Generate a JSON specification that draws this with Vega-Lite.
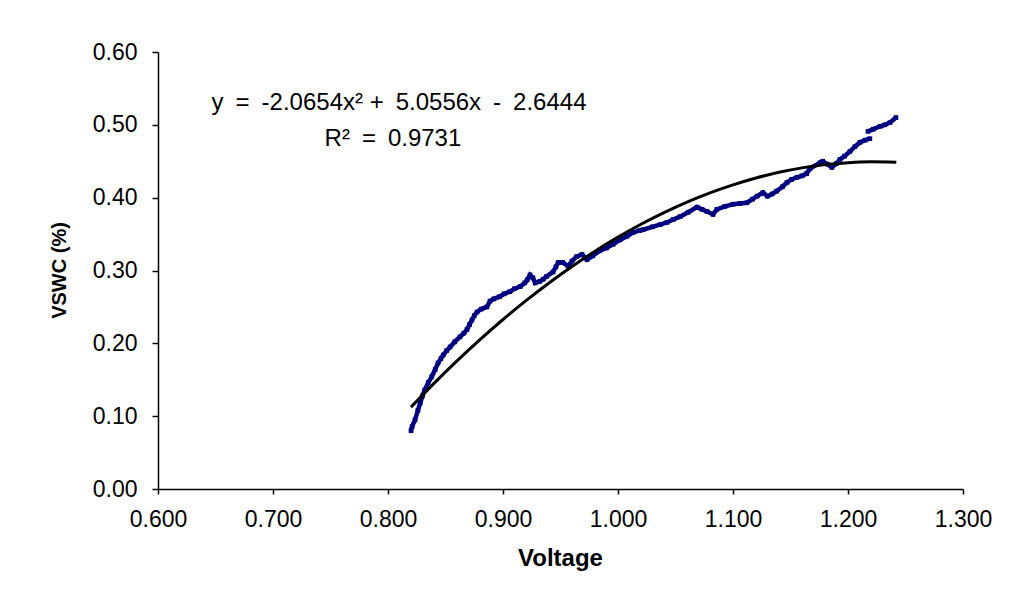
{
  "$schema": "https://vega.github.io/schema/vega-lite/v6.json",
  "width": 805,
  "height": 437,
  "autosize": {"type": "none"},
  "padding": {"left": 158, "top": 52, "right": 52, "bottom": 116},
  "background": "white",
  "config": {
    "font": "Liberation Sans",
    "view": {"stroke": null},
    "axis": {
      "grid": false,
      "labelFlush": false,
      "labelOverlap": false,
      "domainColor": "black",
      "domainWidth": 1.5,
      "tickColor": "black",
      "tickWidth": 1.5,
      "labelColor": "black",
      "labelFont": "Liberation Sans",
      "labelFontSize": 23,
      "titleColor": "black",
      "titleFont": "Liberation Sans",
      "titleFontWeight": "bold"
    }
  },
  "datasets": {
    "obs": [
      {"v": 0.820, "vswc": 0.080, "seg": 1},
      {"v": 0.821, "vswc": 0.086, "seg": 1},
      {"v": 0.8235, "vswc": 0.095, "seg": 1},
      {"v": 0.826, "vswc": 0.108, "seg": 1},
      {"v": 0.828, "vswc": 0.118, "seg": 1},
      {"v": 0.830, "vswc": 0.128, "seg": 1},
      {"v": 0.832, "vswc": 0.136, "seg": 1},
      {"v": 0.835, "vswc": 0.146, "seg": 1},
      {"v": 0.838, "vswc": 0.154, "seg": 1},
      {"v": 0.841, "vswc": 0.164, "seg": 1},
      {"v": 0.8435, "vswc": 0.173, "seg": 1},
      {"v": 0.846, "vswc": 0.179, "seg": 1},
      {"v": 0.848, "vswc": 0.184, "seg": 1},
      {"v": 0.851, "vswc": 0.190, "seg": 1},
      {"v": 0.854, "vswc": 0.195, "seg": 1},
      {"v": 0.858, "vswc": 0.202, "seg": 1},
      {"v": 0.8626, "vswc": 0.209, "seg": 1},
      {"v": 0.866, "vswc": 0.214, "seg": 1},
      {"v": 0.8687, "vswc": 0.219, "seg": 1},
      {"v": 0.871, "vswc": 0.226, "seg": 1},
      {"v": 0.873, "vswc": 0.232, "seg": 1},
      {"v": 0.875, "vswc": 0.238, "seg": 1},
      {"v": 0.8774, "vswc": 0.243, "seg": 1},
      {"v": 0.881, "vswc": 0.247, "seg": 1},
      {"v": 0.886, "vswc": 0.250, "seg": 1},
      {"v": 0.8887, "vswc": 0.258, "seg": 1},
      {"v": 0.892, "vswc": 0.261, "seg": 1},
      {"v": 0.897, "vswc": 0.264, "seg": 1},
      {"v": 0.901, "vswc": 0.268, "seg": 1},
      {"v": 0.906, "vswc": 0.271, "seg": 1},
      {"v": 0.910, "vswc": 0.275, "seg": 1},
      {"v": 0.915, "vswc": 0.278, "seg": 1},
      {"v": 0.919, "vswc": 0.283, "seg": 1},
      {"v": 0.921, "vswc": 0.287, "seg": 1},
      {"v": 0.9235, "vswc": 0.294, "seg": 1},
      {"v": 0.926, "vswc": 0.290, "seg": 1},
      {"v": 0.928, "vswc": 0.283, "seg": 1},
      {"v": 0.932, "vswc": 0.285, "seg": 1},
      {"v": 0.935, "vswc": 0.288, "seg": 1},
      {"v": 0.938, "vswc": 0.292, "seg": 1},
      {"v": 0.9435, "vswc": 0.298, "seg": 1},
      {"v": 0.946, "vswc": 0.305, "seg": 1},
      {"v": 0.948, "vswc": 0.311, "seg": 1},
      {"v": 0.952, "vswc": 0.311, "seg": 1},
      {"v": 0.9565, "vswc": 0.306, "seg": 1},
      {"v": 0.960, "vswc": 0.313, "seg": 1},
      {"v": 0.964, "vswc": 0.319, "seg": 1},
      {"v": 0.9687, "vswc": 0.322, "seg": 1},
      {"v": 0.973, "vswc": 0.315, "seg": 1},
      {"v": 0.978, "vswc": 0.320, "seg": 1},
      {"v": 0.984, "vswc": 0.327, "seg": 1},
      {"v": 0.990, "vswc": 0.331, "seg": 1},
      {"v": 0.9957, "vswc": 0.336, "seg": 1},
      {"v": 1.0017, "vswc": 0.342, "seg": 1},
      {"v": 1.0078, "vswc": 0.347, "seg": 1},
      {"v": 1.013, "vswc": 0.352, "seg": 1},
      {"v": 1.019, "vswc": 0.355, "seg": 1},
      {"v": 1.0217, "vswc": 0.356, "seg": 1},
      {"v": 1.030, "vswc": 0.360, "seg": 1},
      {"v": 1.0365, "vswc": 0.363, "seg": 1},
      {"v": 1.0426, "vswc": 0.366, "seg": 1},
      {"v": 1.048, "vswc": 0.370, "seg": 1},
      {"v": 1.054, "vswc": 0.374, "seg": 1},
      {"v": 1.061, "vswc": 0.380, "seg": 1},
      {"v": 1.0687, "vswc": 0.387, "seg": 1},
      {"v": 1.073, "vswc": 0.384, "seg": 1},
      {"v": 1.0774, "vswc": 0.381, "seg": 1},
      {"v": 1.0826, "vswc": 0.377, "seg": 1},
      {"v": 1.086, "vswc": 0.384, "seg": 1},
      {"v": 1.093, "vswc": 0.388, "seg": 1},
      {"v": 1.100, "vswc": 0.391, "seg": 1},
      {"v": 1.106, "vswc": 0.392, "seg": 1},
      {"v": 1.112, "vswc": 0.393, "seg": 1},
      {"v": 1.117, "vswc": 0.398, "seg": 1},
      {"v": 1.121, "vswc": 0.402, "seg": 1},
      {"v": 1.126, "vswc": 0.407, "seg": 1},
      {"v": 1.130, "vswc": 0.402, "seg": 1},
      {"v": 1.134, "vswc": 0.405, "seg": 1},
      {"v": 1.138, "vswc": 0.409, "seg": 1},
      {"v": 1.143, "vswc": 0.415, "seg": 1},
      {"v": 1.147, "vswc": 0.421, "seg": 1},
      {"v": 1.151, "vswc": 0.425, "seg": 1},
      {"v": 1.1557, "vswc": 0.428, "seg": 1},
      {"v": 1.160, "vswc": 0.430, "seg": 1},
      {"v": 1.164, "vswc": 0.433, "seg": 1},
      {"v": 1.167, "vswc": 0.440, "seg": 1},
      {"v": 1.1757, "vswc": 0.448, "seg": 1},
      {"v": 1.178, "vswc": 0.450, "seg": 1},
      {"v": 1.182, "vswc": 0.446, "seg": 1},
      {"v": 1.186, "vswc": 0.4415, "seg": 1},
      {"v": 1.190, "vswc": 0.447, "seg": 1},
      {"v": 1.193, "vswc": 0.4525, "seg": 1},
      {"v": 1.197, "vswc": 0.457, "seg": 1},
      {"v": 1.2017, "vswc": 0.4635, "seg": 1},
      {"v": 1.206, "vswc": 0.470, "seg": 1},
      {"v": 1.2104, "vswc": 0.476, "seg": 1},
      {"v": 1.215, "vswc": 0.479, "seg": 1},
      {"v": 1.219, "vswc": 0.481, "seg": 1},
      {"v": 1.2174, "vswc": 0.491, "seg": 2},
      {"v": 1.222, "vswc": 0.494, "seg": 2},
      {"v": 1.228, "vswc": 0.498, "seg": 2},
      {"v": 1.232, "vswc": 0.500, "seg": 2},
      {"v": 1.2365, "vswc": 0.503, "seg": 2},
      {"v": 1.2417, "vswc": 0.510, "seg": 2}
    ],
    "trend": [
      {"v": 0.82, "fit": 0.1124},
      {"v": 0.84, "fit": 0.1450},
      {"v": 0.86, "fit": 0.1759},
      {"v": 0.88, "fit": 0.2051},
      {"v": 0.90, "fit": 0.2327},
      {"v": 0.92, "fit": 0.2586},
      {"v": 0.94, "fit": 0.2829},
      {"v": 0.96, "fit": 0.3055},
      {"v": 0.98, "fit": 0.3265},
      {"v": 1.00, "fit": 0.3458},
      {"v": 1.02, "fit": 0.3635},
      {"v": 1.04, "fit": 0.3795},
      {"v": 1.06, "fit": 0.3939},
      {"v": 1.08, "fit": 0.4066},
      {"v": 1.10, "fit": 0.4176},
      {"v": 1.12, "fit": 0.4270},
      {"v": 1.14, "fit": 0.4348},
      {"v": 1.16, "fit": 0.4409},
      {"v": 1.18, "fit": 0.4454},
      {"v": 1.20, "fit": 0.4481},
      {"v": 1.22, "fit": 0.4493},
      {"v": 1.242, "fit": 0.4487}
    ],
    "labels": [
      {"v": 0.8096, "y": 0.5296, "label": "y\u2002=\u2002-2.0654x² +\u20025.0556x\u2002-\u20022.6444"},
      {"v": 0.8043, "y": 0.4800, "label": "R²\u2002=\u20020.9731"}
    ]
  },
  "layer": [
    {
      "data": {"name": "obs"},
      "mark": {"type": "line", "color": "#000080", "strokeWidth": 4.5, "interpolate": "linear"},
      "encoding": {
        "x": {
          "field": "v", "type": "quantitative",
          "scale": {"domain": [0.6, 1.3], "nice": false, "zero": false},
          "axis": {
            "values": [0.6, 0.7, 0.8, 0.9, 1.0, 1.1, 1.2, 1.3],
            "format": ".3f",
            "tickSize": 5,
            "labelPadding": 14,
            "title": "Voltage",
            "titleFontSize": 24,
            "titleBaseline": "alphabetic",
            "titleX": 402,
            "titleY": 76
          }
        },
        "y": {
          "field": "vswc", "type": "quantitative",
          "scale": {"domain": [0, 0.6], "nice": false},
          "axis": {
            "values": [0, 0.1, 0.2, 0.3, 0.4, 0.5, 0.6],
            "format": ".2f",
            "tickSize": 6,
            "labelPadding": 15,
            "title": "VSWC (%)",
            "titleFontSize": 20,
            "titleBaseline": "alphabetic",
            "titleAngle": -90,
            "titleX": -93,
            "titleY": 218
          }
        },
        "detail": {"field": "seg", "type": "nominal"},
        "order": {"field": "v", "type": "quantitative"}
      }
    },
    {
      "data": {"name": "obs"},
      "mark": {"type": "point", "shape": "square", "filled": true, "color": "#000080", "size": 22, "opacity": 1},
      "encoding": {
        "x": {"field": "v", "type": "quantitative"},
        "y": {"field": "vswc", "type": "quantitative"}
      }
    },
    {
      "data": {"name": "trend"},
      "mark": {"type": "line", "color": "black", "strokeWidth": 3, "interpolate": "monotone"},
      "encoding": {
        "x": {"field": "v", "type": "quantitative"},
        "y": {"field": "fit", "type": "quantitative"}
      }
    },
    {
      "data": {"name": "labels"},
      "mark": {"type": "text", "font": "Liberation Sans", "fontSize": 24, "color": "black", "align": "center", "baseline": "middle"},
      "encoding": {
        "x": {"field": "v", "type": "quantitative"},
        "y": {"field": "y", "type": "quantitative"},
        "text": {"field": "label", "type": "nominal"}
      }
    }
  ]
}
